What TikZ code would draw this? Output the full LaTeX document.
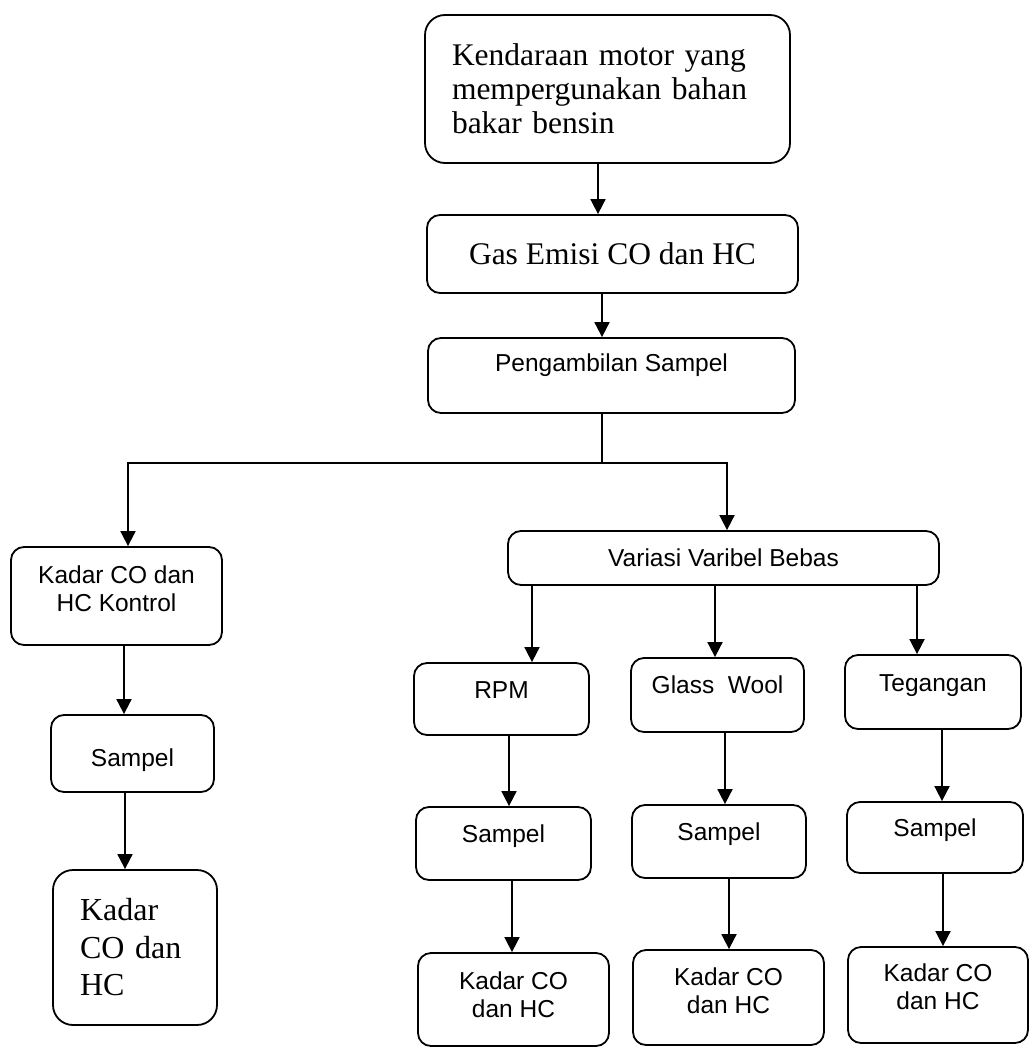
\documentclass[tikz,border=0pt]{standalone}
\usepackage{fontspec}
\setmainfont{Liberation Serif}
\newfontfamily\arialf{Liberation Sans}
\usetikzlibrary{arrows.meta}
\begin{document}
\begin{tikzpicture}[x=1pt,y=-1pt,
  box/.style={draw, line width=1.8pt, rounded corners=13pt, inner sep=0pt},
  sf/.style={font=\arialf\fontsize{24.5}{28}\selectfont},
  rm/.style={font=\fontsize{31.5}{34}\selectfont},
  arr/.style={draw, line width=1.8pt, -{Triangle[length=15pt,width=15pt]}},
  ln/.style={draw, line width=1.8pt}]
\useasboundingbox (0,0) rectangle (1030,1049);

% guide coordinates for connector x positions
\foreach \xx in {598,602,128,727,124,125,532,715,917,509,725,942,512,729,943}
  {\coordinate (x\xx) at (\xx,0);}

% top chain
\node[box, rounded corners=20pt, minimum width=365pt, minimum height=148pt, rm,
      text width=311pt, align=left] (top) at (607.5,89)
      {Kendaraan motor yang\\ mempergunakan bahan\\ bakar bensin};
\node[box, minimum width=371pt, minimum height=78pt, rm] (gas) at (612.5,254)
      {Gas Emisi CO dan HC};
\node[box, minimum width=367pt, minimum height=75pt, sf, text height=18pt, text depth=26.4pt]
      (peng) at (611.5,375.5) {Pengambilan Sampel};

% left branch
\node[box, minimum width=211pt, minimum height=98pt, sf, align=center,
      text height=46pt, text depth=14.5pt] (kon) at (116.5,596)
      {Kadar CO dan\\ HC Kontrol};
\node[box, minimum width=163pt, minimum height=77pt, sf, text height=27pt, text depth=0.4pt]
      (sampL) at (132.5,753.5) {Sampel};
\node[box, rounded corners=20pt, minimum width=164pt, minimum height=155pt,
      font=\fontsize{32}{37.5}\selectfont, text width=110pt, align=left] (kadL) at (135,947.5)
      {Kadar\\ CO dan\\ HC};

% right branch
\node[box, minimum width=431pt, minimum height=54pt, sf] (var) at (723.5,558)
      {Variasi Varibel Bebas};
\node[box, minimum width=175pt, minimum height=72pt, sf, text height=18pt, text depth=18.4pt]
      (rpm) at (501.5,699) {RPM};
\node[box, minimum width=173pt, minimum height=74pt, sf, text height=18pt, text depth=20.4pt]
      (glass) at (717.5,695) {Glass~~Wool};
\node[box, minimum width=176pt, minimum height=74pt, sf, text height=18pt, text depth=18.4pt]
      (teg) at (933,692) {Tegangan};
\node[box, minimum width=175pt, minimum height=73pt, sf, text height=18pt, text depth=20.4pt]
      (sr1) at (503.5,843.5) {Sampel};
\node[box, minimum width=174pt, minimum height=73pt, sf, text height=18pt, text depth=20.4pt]
      (sr2) at (719,841.5) {Sampel};
\node[box, minimum width=176pt, minimum height=71pt, sf, text height=18pt, text depth=20.4pt]
      (sr3) at (935,837.5) {Sampel};
\node[box, minimum width=191pt, minimum height=93pt, sf, align=center,
      text height=46pt, text depth=9.5pt] (kr1) at (513.5,999.5)
      {Kadar CO\\ dan HC};
\node[box, minimum width=191pt, minimum height=95pt, sf, align=center,
      text height=46pt, text depth=14.5pt] (kr2) at (728.5,997.5)
      {Kadar CO\\ dan HC};
\node[box, minimum width=180pt, minimum height=96pt, sf, align=center,
      text height=46pt, text depth=17.5pt] (kr3) at (938,995)
      {Kadar CO\\ dan HC};

% connectors
\draw[arr] (top.south -| x598) -- (gas.north -| x598);
\draw[arr] (gas.south -| x602) -- (peng.north -| x602);
\coordinate (j) at (602,463);
\draw[ln] (peng.south -| x602) -- (j);
\draw[arr] (j) -| (kon.north -| x128);
\draw[arr] (j) -| (var.north -| x727);
\draw[arr] (kon.south -| x124) -- (sampL.north -| x124);
\draw[arr] (sampL.south -| x125) -- (kadL.north -| x125);
\draw[arr] (var.south -| x532) -- (rpm.north -| x532);
\draw[arr] (var.south -| x715) -- (glass.north -| x715);
\draw[arr] (var.south -| x917) -- (teg.north -| x917);
\draw[arr] (rpm.south -| x509) -- (sr1.north -| x509);
\draw[arr] (glass.south -| x725) -- (sr2.north -| x725);
\draw[arr] (teg.south -| x942) -- (sr3.north -| x942);
\draw[arr] (sr1.south -| x512) -- (kr1.north -| x512);
\draw[arr] (sr2.south -| x729) -- (kr2.north -| x729);
\draw[arr] (sr3.south -| x943) -- (kr3.north -| x943);
\end{tikzpicture}
\end{document}
